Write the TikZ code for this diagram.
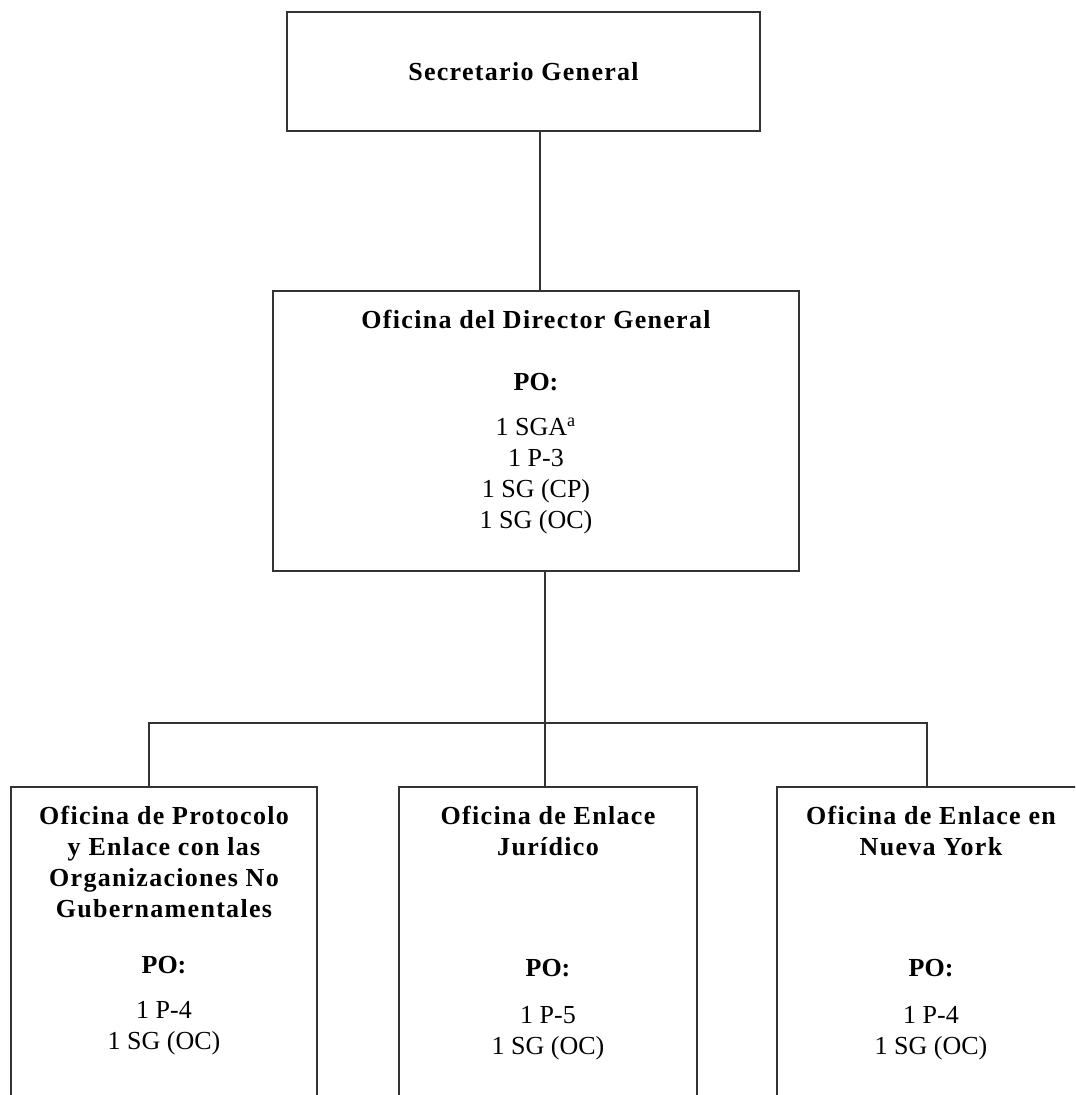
\documentclass[tikz,border=0pt]{standalone}
\usepackage{fontspec}
\setmainfont{Liberation Serif}
\newfontfamily\titulo{Liberation Serif}[LetterSpace=5]
\newcommand\tit{\titulo\bfseries}
\usetikzlibrary{positioning}

\begin{document}
\begin{tikzpicture}[x=0.5pt, y=-0.5pt,
        caja/.style={draw=black!80, line width=0.9pt, rectangle, inner sep=0pt, outer sep=0pt},
        texto/.style={align=center, inner sep=0pt, font=\fontsize{13}{15.5}\selectfont},
        linea/.style={draw=black!80, line width=0.9pt}]
        \useasboundingbox (0, 0) rectangle (1075, 1095);
        \clip (0, 0) rectangle (1075, 1095);

        % Cajas
        \node[caja, texto, minimum width=236.5pt, minimum height=59.5pt] (sg) at (523.5, 71.5) {\tit Secretario General};
        \node[caja, minimum width=263pt, minimum height=140pt] (dg) at (536, 431) {};
        \node[caja, minimum width=153pt, minimum height=206.5pt] (pro) at (164, 993.5) {};
        \node[caja, minimum width=149pt, minimum height=206.5pt] (jur) at (548, 993.5) {};
        \node[caja, minimum width=154pt, minimum height=206.5pt] (ny) at (931, 993.5) {};

        \node[texto, below=9.5pt of dg.north] (dgtxt) {\tit Oficina del Director General\\[15.5pt]
            \bfseries PO:\\[7pt]
            1 SGA\textsuperscript{a}\\ 1 P-3\\ 1 SG (CP)\\ 1 SG (OC)};
        \node[texto, below=9.5pt of pro.north] (protxt) {\tit Oficina de Protocolo\\ \tit y Enlace con las\\
            \tit Organizaciones No\\ \tit Gubernamentales\\[12.5pt]
            \bfseries PO:\\[7pt]
            1 P-4\\ 1 SG (OC)};
        \node[texto, below=9.5pt of jur.north] (jurtxt) {\tit Oficina de Enlace\\ \tit Jurídico\\[45pt]
            \bfseries PO:\\[8pt]
            1 P-5\\ 1 SG (OC)};
        \node[texto, below=9.5pt of ny.north] (nytxt) {\tit Oficina de Enlace en\\ \tit Nueva York\\[45pt]
            \bfseries PO:\\[8pt]
            1 P-4\\ 1 SG (OC)};

        % Lineas
        \coordinate (bus) at (545, 723);
        \draw[linea] ([xshift=8.25pt]sg.south) -- ([xshift=8.25pt]sg.south |- dg.north);
        \draw[linea] ([xshift=4.5pt]dg.south) -- ([xshift=4.5pt]dg.south |- jur.north);
        \draw[linea] ([xshift=-7.5pt]pro.north) |- (bus) -| ([xshift=-2pt]ny.north);
    \end{tikzpicture}
\end{document}
